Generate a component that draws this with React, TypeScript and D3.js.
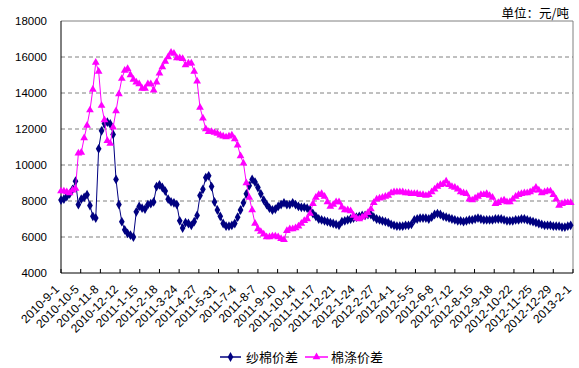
import React from 'react';
import * as d3 from 'd3';

// 5-day sampling starting 2010-9-1
const startDate = new Date(Date.UTC(2010, 8, 1));
const endDate = new Date(Date.UTC(2013, 1, 1));
const stepDays = 5;

// 纱棉价差
const yarnSpread = [
  8050, 8100, 8250, 8400, 8650, 9100, 7800, 8100, 8200, 8350,
  7750, 7150, 7050, 10900, 11900, 12300, 12380, 12280, 11700, 9200,
  7800, 6850, 6400, 6200, 6100, 6000, 7400, 7700, 7600, 7550,
  7800, 7850, 7950, 8800, 8900, 8750, 8550, 8100, 7950, 7900,
  7800, 6900, 6500, 6800, 6750, 6650, 6850, 7200, 8300, 8650,
  9300, 9400, 8800, 7950, 7500, 7150, 6750, 6600, 6600, 6650,
  6750, 7100, 7500, 7900, 8400, 8850, 9200, 9050, 8750, 8400,
  8050, 7800, 7600, 7500, 7550, 7700, 7800, 7900, 7800, 7800,
  7900, 7800, 7700, 7650, 7650, 7600, 7500, 7300, 7150, 7000,
  6950, 6900, 6850, 6800, 6750, 6700, 6650, 6850, 6900, 6950,
  7000, 7050, 7100, 7150, 7200, 7200, 7250, 7250, 7100, 7000,
  6950, 6900, 6850, 6800, 6700, 6650, 6600, 6600, 6600, 6650,
  6650, 6700, 6950, 7000, 7050, 7050, 7050, 7000, 7100, 7250,
  7300, 7250, 7150, 7100, 7050, 7000, 6950, 6900, 6900, 6850,
  6900, 6950, 6950, 7000, 7050, 7000, 6950, 6950, 6950, 6950,
  7000, 7000, 7000, 6950, 6900, 6900, 6900, 6950, 6950, 7000,
  7000, 6950, 6900, 6850, 6800, 6750, 6700, 6650, 6650, 6650,
  6600, 6600, 6600, 6550, 6550, 6600, 6650,
];

// 棉涤价差
const cottonPolySpread = [
  8550, 8550, 8500, 8450, 8600, 8700, 10650, 10700, 11500, 12200,
  13050, 14200, 15700, 15200, 13300, 12500, 11350, 11200, 12100, 13000,
  13950, 14800, 15250, 15350, 15000, 14750, 14600, 14500, 14250, 14250,
  14500, 14500, 14150, 14600, 15100, 15450, 15750, 16000, 16250, 16200,
  15950, 15950, 15900, 15550, 15650, 15650, 15200, 14650, 13200, 12600,
  12000, 11850, 11850, 11800, 11750, 11650, 11600, 11550, 11600, 11650,
  11450, 11100, 10500, 10100, 9000, 8200, 7500, 6750, 6450, 6300,
  6150, 6000, 6000, 6050, 6050, 6000, 5900, 5850, 6350, 6450,
  6450, 6500, 6600, 6750, 6900, 7000, 7300, 7850, 8200, 8350,
  8400, 8250, 7950, 7700, 7800, 7950, 7950, 7650, 7500, 7500,
  7450, 7200, 7050, 7000, 7100, 7200, 7350, 7550, 7900, 8100,
  8150, 8200, 8250, 8300, 8450, 8500, 8500, 8500, 8500, 8450,
  8450, 8400, 8400, 8400, 8350, 8350, 8300, 8350, 8500, 8650,
  8800, 8900, 8950, 9100, 8900, 8800, 8750, 8650, 8500, 8450,
  8400, 8100, 8050, 8150, 8250, 8350, 8350, 8400, 8300, 8200,
  7850, 7900, 8000, 8050, 7950, 7950, 8100, 8250, 8350, 8400,
  8450, 8450, 8500, 8600, 8750, 8600, 8450, 8500, 8550, 8550,
  8350, 8100, 7750, 7850, 7900, 7900, 7900,
];

const yTicks = [4000, 6000, 8000, 10000, 12000, 14000, 16000, 18000];
const tickEveryDays = 34;

const W = 579;
const H = 368;
const plot = { left: 61, right: 573, top: 21, bottom: 273 };

const labelFont = '"Liberation Sans", Arial, sans-serif';
const cjkFont = '"Noto Sans CJK SC", sans-serif';

const dateOf = (i: number) => d3.utcDay.offset(startDate, i * stepDays);
const fmt = (d: Date) => `${d.getUTCFullYear()}-${d.getUTCMonth() + 1}-${d.getUTCDate()}`;

export default function App() {
  const x = d3.scaleUtc().domain([startDate, endDate]).range([plot.left, plot.right]);
  const y = d3.scaleLinear().domain([4000, 18000]).range([plot.bottom, plot.top]);

  const xTicks: Date[] = [];
  for (let d = startDate; d <= endDate; d = d3.utcDay.offset(d, tickEveryDays)) xTicks.push(d);

  const line = d3.line<number>()
    .x((_, i) => x(dateOf(i)))
    .y(v => y(v));

  const diamond = d3.symbol(d3.symbolDiamond, 28)()!;
  const triangle = d3.symbol(d3.symbolTriangle, 26)()!;

  return (
    <svg width={W} height={H} style={{ position: 'absolute', left: 0, top: 0, background: '#fff' }}>
      {/* grid */}
      {yTicks.filter(t => t > 4000 && t < 18000).map(t => (
        <line key={t} x1={plot.left} x2={plot.right} y1={y(t)} y2={y(t)}
          stroke="#808080" strokeDasharray="4,3" />
      ))}
      {/* frame */}
      <line x1={plot.left} x2={plot.right} y1={plot.top} y2={plot.top} stroke="#808080" />
      <line x1={plot.right} x2={plot.right} y1={plot.top} y2={plot.bottom} stroke="#808080" />
      <line x1={plot.left} x2={plot.left} y1={plot.top} y2={plot.bottom} stroke="#000" />
      <line x1={plot.left} x2={plot.right} y1={plot.bottom} y2={plot.bottom} stroke="#000" />

      {/* y labels */}
      {yTicks.map(t => (
        <text key={t} x={47} y={y(t)} dy="0.35em" textAnchor="end"
          fontFamily={labelFont} fontSize={11.5} fill="#000">{t}</text>
      ))}

      {/* x ticks + labels */}
      {xTicks.map((d, i) => (
        <g key={i}>
          <line x1={x(d)} x2={x(d)} y1={plot.bottom - 4} y2={plot.bottom} stroke="#000" />
          <text transform={`translate(${x(d) - 1},${plot.bottom + 17}) rotate(-45)`}
            textAnchor="end" fontFamily={labelFont} fontSize={12} fill="#000">{fmt(d)}</text>
        </g>
      ))}

      {/* series */}
      <path d={line(yarnSpread) || ''} fill="none" stroke="#000080" strokeWidth={1} />
      {yarnSpread.map((v, i) => (
        <path key={i} d={diamond} transform={`translate(${x(dateOf(i))},${y(v)})`} fill="#000080" />
      ))}
      <path d={line(cottonPolySpread) || ''} fill="none" stroke="#FF00FF" strokeWidth={1} />
      {cottonPolySpread.map((v, i) => (
        <path key={i} d={triangle} transform={`translate(${x(dateOf(i))},${y(v)})`} fill="#FF00FF" />
      ))}

      {/* unit */}
      <text x={569} y={18} textAnchor="end" fontFamily={cjkFont} fontSize={12.5} fill="#000">单位：元/吨</text>

      {/* legend */}
      <g transform="translate(0,357)">
        <line x1={220} x2={241} stroke="#000080" strokeWidth={1.5} />
        <path d={diamond} transform="translate(230.5,0)" fill="#000080" />
        <text x={246} dy="0.35em" fontFamily={cjkFont} fontSize={13} fill="#000">纱棉价差</text>
        <line x1={305} x2={328} stroke="#FF00FF" strokeWidth={1.5} />
        <path d={triangle} transform="translate(316.5,0)" fill="#FF00FF" />
        <text x={331} dy="0.35em" fontFamily={cjkFont} fontSize={13} fill="#000">棉涤价差</text>
      </g>
    </svg>
  );
}
